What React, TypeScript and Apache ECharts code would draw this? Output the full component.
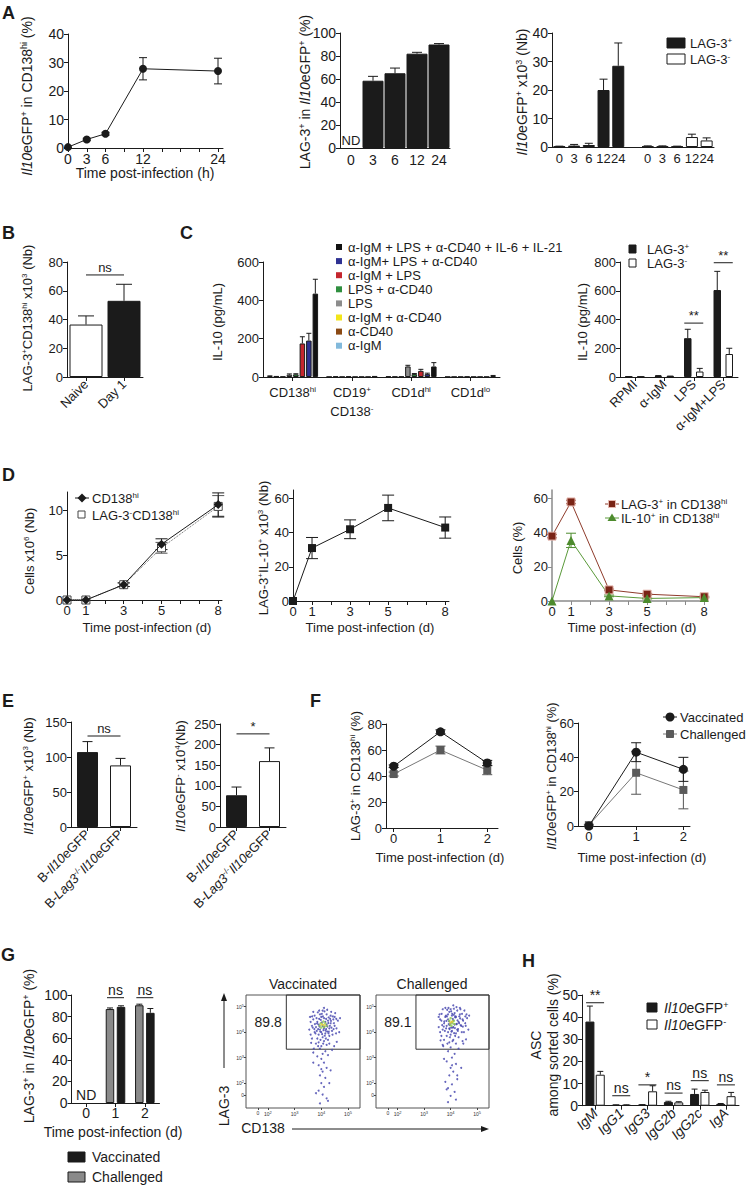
import React, { useEffect, useRef } from "react";
import * as echarts from "echarts";

const FONT = "'Liberation Sans', Arial, Helvetica, sans-serif";
const NARROW = "'Liberation Sans Narrow', 'Liberation Sans', Arial, sans-serif";
const INK = "#1b1b1b";
const W = 747;
const H = 1185;

/* ================= DATA ================= */
// ---- Panel A ----
const aHours = [0, 3, 6, 12, 24];
const aHourTicks = [0, 3, 6, 9, 12, 15, 18, 21, 24];
const aHourLabels = [0, 3, 6, 12, 24];
const aPctTicks = [0, 10, 20, 30, 40];
const aIl10InCd138 = [0.3, 3.0, 5.0, 27.8, 27.0];
const aIl10InCd138Err = [0, 0.4, 0.5, 3.9, 4.5];
const aLagCats = ["0", "3", "6", "12", "24"];
const aLagTicks = [0, 20, 40, 60, 80, 100];
const aLagInIl10 = [0, 58.5, 65, 82, 90]; // first = ND
const aLagInIl10Err = [0, 3.8, 4.5, 1.2, 0.8];
const aCountCats = ["0", "3", "6", "12", "24", "", "0", "3", "6", "12", "24"];
const aCountTicks = [0, 10, 20, 30, 40];
const aCountLagPos = [0.2, 0.5, 0.7, 20, 28.5];
const aCountLagPosErr = [0.1, 0.4, 0.6, 3.8, 8.0];
const aCountLagNeg = [0.2, 0.2, 0.2, 3.5, 2.3];
const aCountLagNegErr = [0.2, 0.2, 0.1, 1.0, 0.9];

// ---- Panel B ----
const bCats = ["Naive", "Day 1"];
const bTicks = [0, 20, 40, 60, 80];
const bLag3Cd138 = [36.5, 53];
const bLag3Cd138Err = [6, 11.5];
const bSig = [{ a: 0, b: 1, y: 71, t: "ns" }];

// ---- Panel C ----
const cCells = ["{n|CD138}{s|hi}", "{n|CD19}{s|+}\n{n|CD138}{s|-}", "{n|CD1d}{s|hi}", "{n|CD1d}{s|lo}"];
const cTicks = [0, 200, 400, 600];
// legend order (top to bottom)
const cStimNames = [
  "α-IgM + LPS + α-CD40 + IL-6 + IL-21",
  "α-IgM+ LPS + α-CD40",
  "α-IgM + LPS",
  "LPS + α-CD40",
  "LPS",
  "α-IgM + α-CD40",
  "α-CD40",
  "α-IgM",
];
const cStimColors = ["#121212", "#2e3192", "#c4262e", "#2f8f3f", "#8c8c8c", "#f2e51a", "#8b4a14", "#82b9db"];
const cStimValues = [
  [435, 2, 55, 6],
  [190, 1, 15, 1],
  [175, 1, 32, 1],
  [14, 1, 15, 1],
  [12, 3, 55, 2],
  [2, 1, 2, 1],
  [2, 3, 2, 1],
  [5, 1, 3, 1],
];
const cStimErr = [
  [75, 1, 20, 2],
  [38, 0, 5, 0],
  [35, 0, 8, 0],
  [3, 0, 3, 0],
  [4, 0, 6, 0],
  [0, 0, 0, 0],
  [1, 0, 0, 0],
  [1, 0, 0, 0],
];
const cCultCats = ["RPMI", "α-IgM", "LPS", "α-IgM+LPS"];
const cCultTicks = [0, 200, 400, 600, 800];
const cCultLagPos = [2, 8, 270, 605];
const cCultLagPosErr = [0.5, 2, 62, 130];
const cCultLagNeg = [1, 5, 38, 160];
const cCultLagNegErr = [0.5, 1.5, 22, 40];
const cCultSig = [
  { a: 2, b: 2, y: 375, t: "**" },
  { a: 3, b: 3, y: 795, t: "**" },
];

// ---- Panel D ----
const dDays = [0, 1, 3, 5, 8];
const dDayTicks = [0, 1, 2, 3, 4, 5, 6, 7, 8];
const dDayLabels = [0, 1, 3, 5, 8];
const dCellTicks = [0, 5, 10];
const dCd138 = [0, 0, 1.7, 6.2, 10.6];
const dCd138Err = [0, 0, 0.2, 0.6, 1.3];
const dLagNegCd138 = [0, 0, 1.7, 5.8, 10.4];
const dLagNegCd138Err = [0, 0, 0.2, 0.6, 1.2];
const dTicks60 = [0, 20, 40, 60];
const dLagIl10 = [0, 31, 42, 54.5, 43];
const dLagIl10Err = [0, 6.2, 5.5, 7.5, 6.2];
const dLagPct = [38, 58, 6.5, 4, 2.5];
const dLagPctErr = [1, 1, 0.5, 0.5, 0.3];
const dIl10Pct = [0, 35.5, 3, 1.5, 2];
const dIl10PctErr = [0, 4.2, 0.5, 0.3, 0.3];

// ---- Panel E ----
const eCats = ["{n|B-}{i|Il10}{n|eGFP}", "{n|B-}{i|Lag3}{s|-/-}{i|Il10}{n|eGFP}"];
const eTicks150 = [0, 50, 100, 150];
const eTicks250 = [0, 50, 100, 150, 200, 250];
const eIl10Pos = [107, 88];
const eIl10PosErr = [15, 10];
const eIl10Neg = [77, 160];
const eIl10NegErr = [20, 32];
const eSigPos = [{ a: 0, b: 1, y: 130, t: "ns" }];
const eSigNeg = [{ a: 0, b: 1, y: 226, t: "*" }];

// ---- Panel F ----
const fDays = [0, 1, 2];
const fTicks80 = [0, 20, 40, 60, 80];
const fTicks60 = [0, 20, 40, 60];
const fLagVac = [47.5, 74, 50];
const fLagVacErr = [1, 1.5, 2];
const fLagChal = [41.5, 60, 44.5];
const fLagChalErr = [1.5, 3, 3.5];
const fIl10Vac = [0, 43, 33];
const fIl10VacErr = [0, 5.5, 7];
const fIl10Chal = [0.5, 31, 21];
const fIl10ChalErr = [0.5, 12.5, 11];

// ---- Panel G ----
const gCats = ["0", "1", "2"];
const gTicks = [0, 20, 40, 60, 80, 100];
const gChal = [0, 87, 90.5];
const gChalErr = [0, 1, 1];
const gVac = [0, 89, 83.5];
const gVacErr = [0, 1, 4];
const gSig = [
  { a: 1, b: 1, y: 97.5, t: "ns" },
  { a: 2, b: 2, y: 97.5, t: "ns" },
];
const gGateLabels = ["89.8", "89.1"];
// flow coordinates in log10 decades
const gFlowTicksX = [1.625, 2, 3, 4, 5];
const gFlowTicksY = [1.53, 2, 3, 4, 5];
const gFlowVac = [
  [4.05, 4.25], [3.95, 4.1], [4.2, 4.3], [3.85, 4.4], [4.1, 4.55], [4.3, 4.15], [3.9, 3.9], [4.15, 3.95], [4.0, 4.6], [4.25, 4.45],
  [3.8, 4.2], [4.35, 4.35], [4.05, 3.8], [3.75, 4.0], [4.4, 4.05], [3.95, 4.7], [4.2, 4.7], [4.1, 4.15], [3.9, 4.3], [4.3, 3.85],
  [3.7, 4.5], [4.45, 4.5], [4.0, 4.0], [4.15, 4.4], [3.85, 3.75], [4.25, 3.7], [4.5, 4.25], [3.65, 4.25], [4.05, 4.85], [4.35, 4.65],
  [3.9, 3.6], [4.1, 3.65], [4.2, 3.5], [3.8, 3.55], [4.0, 3.45], [4.3, 3.55], [3.95, 3.35], [4.15, 3.25], [4.05, 3.15], [3.85, 3.05],
  [4.25, 3.1], [4.0, 2.95], [4.1, 2.8], [3.9, 2.7], [4.2, 2.6], [4.05, 2.45], [3.95, 2.3], [4.15, 2.2], [4.0, 2.0], [4.1, 1.85],
  [3.9, 1.7], [4.05, 1.55], [4.2, 1.4], [3.7, 3.2], [4.4, 3.3], [3.6, 3.9], [4.55, 3.95], [3.75, 4.65], [4.5, 4.6], [4.1, 4.95],
  [4.12, 4.22], [3.98, 4.48], [4.22, 4.02], [3.88, 4.12], [4.28, 4.58], [4.02, 4.38], [4.18, 4.12], [3.92, 4.52],
  [3.6, 4.4], [3.65, 3.75], [3.7, 4.8], [3.78, 3.95], [3.82, 4.55], [3.88, 3.45], [3.92, 4.85], [3.97, 3.7], [4.02, 4.72], [4.07, 3.55],
  [4.12, 4.82], [4.17, 3.75], [4.22, 4.88], [4.27, 3.95], [4.32, 4.25], [4.37, 4.8], [4.42, 3.9], [4.47, 4.35], [4.52, 4.75], [4.57, 4.15],
  [4.62, 4.45], [4.67, 4.0], [3.55, 4.1], [3.58, 4.6], [4.7, 4.55], [3.72, 3.35], [4.48, 3.45], [3.83, 4.05], [4.28, 4.02], [4.08, 4.08],
  [3.93, 4.22], [4.18, 4.52], [4.33, 4.52], [3.68, 4.18], [4.38, 4.18], [3.87, 4.78], [4.23, 4.22], [4.03, 3.92], [3.76, 4.32], [4.13, 3.86],
  [4.43, 4.62], [3.62, 3.58], [4.58, 3.62], [4.0, 2.55], [3.8, 1.6], [4.3, 2.0], [3.7, 2.8], [4.35, 2.5], [4.25, 1.3], [3.95, 1.2],
  [3.74, 4.12], [3.84, 4.34], [3.96, 4.02], [4.06, 4.62], [4.16, 4.06], [4.26, 4.36], [4.36, 4.44], [4.46, 4.12], [3.66, 4.62], [4.56, 4.52],
];
const gFlowVacHot = [[4.05, 4.3], [4.1, 4.2], [3.98, 4.35], [4.15, 4.35], [4.08, 4.42], [4.0, 4.18], [4.2, 4.25], [3.94, 4.26]];
const gFlowVacWarm = [[4.02, 4.3], [4.12, 4.28]];
const gFlowChal = [
  [4.0, 4.35], [4.1, 4.2], [3.9, 4.5], [4.2, 4.6], [4.05, 4.05], [3.85, 4.25], [4.3, 4.4], [4.15, 4.75], [3.95, 4.8], [4.25, 4.1],
  [3.8, 4.6], [4.4, 4.25], [4.0, 3.9], [4.1, 4.45], [3.75, 4.35], [4.35, 4.7], [3.9, 4.0], [4.2, 3.95], [4.05, 4.65], [3.7, 4.1],
  [4.45, 4.5], [3.95, 4.15], [4.3, 3.8], [3.85, 3.85], [4.15, 4.3], [4.0, 4.9], [4.25, 4.85], [3.65, 4.45], [4.5, 4.0], [3.8, 4.95],
  [4.1, 3.7], [3.95, 3.6], [4.2, 3.55], [4.0, 3.4], [3.9, 3.25], [4.15, 3.15], [4.05, 3.0], [3.85, 2.85], [4.2, 2.75], [4.0, 2.6],
  [4.1, 2.45], [3.95, 2.3], [4.25, 2.15], [4.05, 1.95], [3.9, 1.8], [4.15, 1.65], [4.0, 1.5], [3.8, 2.05], [4.3, 3.35], [3.7, 3.5],
  [4.55, 4.35], [3.6, 4.0], [4.35, 4.95], [3.75, 3.7], [4.45, 3.65], [4.1, 5.05], [3.55, 4.6], [4.6, 4.7], [4.05, 4.4], [3.9, 4.7],
  [4.08, 4.52], [3.96, 4.28], [4.22, 4.32], [3.86, 4.62], [4.18, 4.58], [4.02, 4.18], [4.12, 4.68], [3.94, 4.42],
  [3.6, 4.5], [3.65, 3.85], [3.7, 4.9], [3.78, 4.05], [3.82, 4.65], [3.88, 3.55], [3.92, 4.95], [3.97, 3.8], [4.02, 4.82], [4.07, 3.65],
  [4.12, 4.92], [4.17, 3.85], [4.22, 4.98], [4.27, 4.05], [4.32, 4.35], [4.37, 4.9], [4.42, 4.0], [4.47, 4.45], [4.52, 4.85], [4.57, 4.25],
  [4.62, 4.55], [4.67, 4.1], [3.55, 4.2], [3.58, 4.7], [4.7, 4.65], [3.72, 3.45], [4.48, 3.55], [3.83, 4.15], [4.28, 4.12], [4.08, 4.18],
  [3.93, 4.32], [4.18, 4.62], [4.33, 4.62], [3.68, 4.28], [4.38, 4.28], [3.87, 4.88], [4.23, 4.32], [4.03, 4.02], [3.76, 4.42], [4.13, 3.96],
  [4.43, 4.72], [3.62, 3.68], [4.58, 3.72], [4.05, 2.7], [3.85, 1.75], [4.25, 2.3], [3.75, 2.95], [4.4, 2.6], [4.2, 1.35], [3.9, 1.25],
  [3.74, 4.22], [3.84, 4.44], [3.96, 4.12], [4.06, 4.72], [4.16, 4.16], [4.26, 4.46], [4.36, 4.54], [4.46, 4.22], [3.66, 4.72], [4.56, 4.62],
];
const gFlowChalHot = [[4.05, 4.4], [3.98, 4.3], [4.12, 4.45], [4.0, 4.55], [4.08, 4.35], [3.95, 4.45], [4.15, 4.32], [4.03, 4.25]];
const gFlowChalWarm = [[4.06, 4.42], [3.99, 4.38]];

// ---- Panel H ----
const hCats = ["{i|IgM}", "{i|IgG1}", "{i|IgG3}", "{i|IgG2b}", "{i|IgG2c}", "{i|IgA}"];
const hTicks = [0, 10, 20, 30, 40, 50];
const hIl10Pos = [38, 0.3, 0.4, 1.7, 5.3, 0.8];
const hIl10PosErr = [7, 0.1, 0.1, 0.3, 2.2, 0.2];
const hIl10Neg = [14, 0.3, 6.5, 1.5, 6.2, 4.3];
const hIl10NegErr = [1.5, 0.1, 2.5, 0.3, 0.8, 1.7];
const hSig = [
  { a: 0, b: 0, y: 46.5, t: "**" },
  { a: 1, b: 1, y: 4.5, t: "ns" },
  { a: 2, b: 2, y: 9.4, t: "*" },
  { a: 3, b: 3, y: 5.7, t: "ns" },
  { a: 4, b: 4, y: 11.3, t: "ns" },
  { a: 5, b: 5, y: 9.4, t: "ns" },
];

/* ================= HELPERS ================= */
function R(fs: number, family: string = FONT, lh?: number): any {
  const base: any = { fontSize: fs, fontFamily: family, color: INK, fill: INK };
  if (lh) base.lineHeight = lh;
  const sfs = Math.round(fs * 0.64);
  const sup: any = { fontSize: sfs, fontFamily: family, color: INK, fill: INK, padding: [0, 0, Math.round(fs * 0.45), 0] };
  return {
    n: { ...base },
    i: { ...base, fontStyle: "italic" },
    s: sup,
  };
}

const axLine = (c: string = INK, w: number = 1) => ({ show: true, onZero: false, lineStyle: { color: c, width: w } });

function vAxis(min: number, max: number, ticks: number[], labels: number[], fs: number, o: any = {}): any {
  const c = o.color || INK;
  return {
    type: "value",
    min,
    max,
    axisLine: o.noLine ? { show: false } : axLine(c, o.lw || 1),
    axisTick: { show: true, length: o.tickLen ?? 4, customValues: ticks, lineStyle: { color: c, width: 1 } },
    axisLabel: {
      customValues: labels,
      fontSize: fs,
      fontFamily: o.font || FONT,
      color: INK,
      margin: o.margin ?? 4,
      formatter: o.formatter,
      rich: o.rich,
    },
    splitLine: { show: false },
  };
}

function cAxis(cats: string[], fs: number, o: any = {}): any {
  return {
    type: "category",
    data: cats,
    boundaryGap: true,
    axisLine: axLine(),
    axisTick: { show: o.ticks !== false, alignWithLabel: true, length: 4, lineStyle: { color: INK } },
    axisLabel: {
      interval: 0,
      fontSize: fs,
      fontFamily: o.font || FONT,
      color: INK,
      rotate: o.rotate || 0,
      margin: o.margin ?? 5,
      rich: o.rich,
    },
    splitLine: { show: false },
  };
}

function barS(gi: number, data: any[], fill: string, bw: number, gap: string): any {
  return {
    type: "bar",
    xAxisIndex: gi,
    yAxisIndex: gi,
    data,
    barWidth: bw,
    barGap: gap,
    itemStyle: { color: fill, borderColor: INK, borderWidth: 1 },
    silent: true,
    z: 2,
  };
}

function errS(gi: number, pts: number[][], off: number, cap: number, color: string = INK): any {
  return {
    type: "custom",
    xAxisIndex: gi,
    yAxisIndex: gi,
    silent: true,
    z: 3,
    encode: { x: 0, y: [1, 2, 3] },
    data: pts,
    renderItem: (_p: any, api: any) => {
      const x = api.value(0);
      const m = api.value(1);
      const lo = api.value(2);
      const hi = api.value(3);
      if (!(hi - lo > 0)) return { type: "group", children: [] };
      const a = api.coord([x, lo]);
      const b = api.coord([x, hi]);
      const cx = a[0] + off;
      const st = { stroke: color, lineWidth: 1 };
      const ch: any[] = [{ type: "line", shape: { x1: cx, y1: a[1], x2: cx, y2: b[1] }, style: st }];
      if (hi > m) ch.push({ type: "line", shape: { x1: cx - cap, y1: b[1], x2: cx + cap, y2: b[1] }, style: st });
      if (lo < m) ch.push({ type: "line", shape: { x1: cx - cap, y1: a[1], x2: cx + cap, y2: a[1] }, style: st });
      return { type: "group", children: ch };
    },
  };
}

const barErr = (vals: number[], errs: number[]) => vals.map((v, i) => [i, v, v, v + errs[i]]);
const ptErr = (xs: number[], vals: number[], errs: number[]) => xs.map((x, i) => [x, vals[i], vals[i] - errs[i], vals[i] + errs[i]]);

function sigS(gi: number, items: any[], half: number, fs: number, font: string = FONT): any {
  return {
    type: "custom",
    xAxisIndex: gi,
    yAxisIndex: gi,
    silent: true,
    z: 4,
    encode: { x: 0, y: 1 },
    data: items.map((it) => [it.a, it.y]),
    renderItem: (p: any, api: any) => {
      const it = items[p.dataIndex];
      const pa = api.coord([it.a, it.y]);
      const pb = api.coord([it.b, it.y]);
      const x1 = it.a === it.b ? pa[0] - half : pa[0];
      const x2 = it.a === it.b ? pb[0] + half : pb[0];
      const y = pa[1];
      return {
        type: "group",
        children: [
          { type: "line", shape: { x1, y1: y, x2, y2: y }, style: { stroke: INK, lineWidth: 1 } },
          {
            type: "text",
            x: (x1 + x2) / 2,
            y: y - 1,
            style: {
              text: it.t,
              fill: INK,
              font: `${fs}px ${font}`,
              align: "center",
              verticalAlign: "bottom",
              textAlign: "center",
              textVerticalAlign: "bottom",
            },
          },
        ],
      };
    },
  };
}

function ndS(gi: number, cats: number[], fs: number, font: string = FONT): any {
  return {
    type: "custom",
    xAxisIndex: gi,
    yAxisIndex: gi,
    silent: true,
    z: 4,
    encode: { x: 0, y: 1 },
    data: cats.map((c) => [c, 0]),
    renderItem: (_p: any, api: any) => {
      const pt = api.coord([api.value(0), 0]);
      return {
        type: "text",
        x: pt[0],
        y: pt[1] - 1,
        style: { text: "ND", fill: INK, font: `${fs}px ${font}`, align: "center", verticalAlign: "bottom", textAlign: "center", textVerticalAlign: "bottom" },
      };
    },
  };
}

function lineS(gi: number, xs: number[], ys: number[], o: any): any {
  return {
    type: "line",
    xAxisIndex: gi,
    yAxisIndex: gi,
    data: xs.map((x, i) => [x, ys[i]]),
    symbol: o.symbol,
    symbolSize: o.size,
    showAllSymbol: true,
    itemStyle: { color: o.fill, borderColor: o.border || o.fill, borderWidth: o.bw ?? 0 },
    lineStyle: { color: o.lineColor, width: 1, type: o.lineType || "solid" },
    clip: false,
    silent: true,
    z: o.z || 5,
  };
}

/* ================= OPTION ================= */
function buildOption(): any {
  const grid: any[] = [];
  const xAxis: any[] = [];
  const yAxis: any[] = [];
  const series: any[] = [];
  const graphic: any[] = [];

  const addGrid = (rect: any, xa: any, ya: any) => {
    const i = grid.length;
    grid.push({ containLabel: false, ...rect });
    xAxis.push({ ...xa, gridIndex: i });
    yAxis.push({ ...ya, gridIndex: i });
    return i;
  };

  const txt = (x: number, y: number, t: string, fs: number, o: any = {}) => {
    graphic.push({
      type: "text",
      x,
      y,
      rotation: o.rot || 0,
      silent: true,
      z: 10,
      style: {
        text: t,
        rich: o.rich,
        fill: o.color || INK,
        font: `${o.weight || "normal"} ${fs}px ${o.font || FONT}`,
        align: o.align || "center",
        verticalAlign: o.va || "middle",
        textAlign: o.align || "center",
        textVerticalAlign: o.va || "middle",
      },
    });
  };
  const yTitle = (x: number, y: number, t: string, fs: number, font: string = FONT) =>
    txt(x, y, t, fs, { rot: Math.PI / 2, rich: R(fs, font), font });
  const box = (x: number, y: number, w: number, h: number, fill: string, stroke: string = INK) =>
    graphic.push({ type: "rect", silent: true, z: 10, shape: { x, y, width: w, height: h }, style: { fill, stroke, lineWidth: 1 } });
  const seg = (x1: number, y1: number, x2: number, y2: number, color: string = INK, dash?: number[]) =>
    graphic.push({ type: "line", silent: true, z: 10, shape: { x1, y1, x2, y2 }, style: { stroke: color, lineWidth: 1, lineDash: dash } });

  // panel letters
  const letters: [string, number, number][] = [
    ["A", 2, 4], ["B", 2, 224], ["C", 180, 224], ["D", 2, 466],
    ["E", 2, 692], ["F", 310, 692], ["G", 1, 946], ["H", 522, 952],
  ];
  letters.forEach(([l, x, y]) => txt(x, y, l, 18, { weight: "bold", align: "left", va: "top", font: "Arial, 'Liberation Sans', sans-serif" }));

  /* ---- A1 ---- */
  const a1 = addGrid(
    { left: 68, top: 34, width: 155, height: 114 },
    vAxis(0, 24.8, aHourTicks, aHourLabels, 14),
    vAxis(0, 40, aPctTicks, aPctTicks, 14)
  );
  series.push(errS(a1, ptErr(aHours, aIl10InCd138, aIl10InCd138Err), 0, 4));
  series.push(lineS(a1, aHours, aIl10InCd138, { symbol: "circle", size: 8, fill: INK, lineColor: INK }));
  yTitle(27, 96, "{i|Il10}{n|eGFP}{s|+}{n| in CD138}{s|hi}{n| (%)}", 14);
  txt(145, 173, "Time post-infection (h)", 14);

  /* ---- A2 ---- */
  const a2 = addGrid(
    { left: 340, top: 33, width: 110, height: 115 },
    cAxis(aLagCats, 14, { ticks: false }),
    vAxis(0, 100, aLagTicks, aLagTicks, 14)
  );
  series.push(barS(a2, aLagInIl10.map((v, i) => (i === 0 ? "-" : v)), INK, 21, "0%"));
  series.push(errS(a2, barErr(aLagInIl10, aLagInIl10Err).slice(1), 0, 5));
  series.push(ndS(a2, [0], 13));
  yTitle(305, 92, "{n|LAG-3}{s|+}{n| in }{i|Il10}{n|eGFP}{s|+}{n| (%)}", 14);

  /* ---- A3 ---- */
  const a3 = addGrid(
    { left: 552, top: 33, width: 162, height: 114 },
    cAxis(aCountCats, 13, { ticks: false }),
    vAxis(0, 40, aCountTicks, aCountTicks, 14)
  );
  const a3pos = aCountCats.map((_c, i) => (i < 5 ? aCountLagPos[i] : "-"));
  const a3neg = aCountCats.map((_c, i) => (i > 5 ? aCountLagNeg[i - 6] : "-"));
  series.push(barS(a3, a3pos, INK, 12, "-100%"));
  series.push(barS(a3, a3neg, "#ffffff", 12, "-100%"));
  series.push(errS(a3, barErr(aCountLagPos, aCountLagPosErr), 0, 4));
  series.push(errS(a3, aCountLagNeg.map((v, i) => [i + 6, v, v, v + aCountLagNegErr[i]]), 0, 4));
  yTitle(522, 92, "{i|Il10}{n|eGFP}{s|+}{n| x10}{s|3}{n| (Nb)}", 14);
  box(667, 38, 18, 10, INK);
  box(667, 54, 18, 10, "#ffffff");
  txt(690, 43, "{n|LAG-3}{s|+}", 13, { align: "left", rich: R(13) });
  txt(690, 59, "{n|LAG-3}{s|-}", 13, { align: "left", rich: R(13) });

  /* ---- B ---- */
  const b = addGrid(
    { left: 67, top: 262, width: 76, height: 115 },
    cAxis(bCats, 13, { rotate: 45 }),
    vAxis(0, 80, bTicks, bTicks, 13)
  );
  series.push(
    barS(
      b,
      bLag3Cd138.map((v, i) => ({ value: v, itemStyle: { color: i === 0 ? "#ffffff" : INK } })),
      INK,
      33,
      "0%"
    )
  );
  series.push(errS(b, barErr(bLag3Cd138, bLag3Cd138Err), 0, 8));
  series.push(sigS(b, bSig, 0, 13));
  yTitle(27, 318, "{n|LAG-3}{s|+}{n|CD138}{s|hi}{n| x10}{s|3}{n| (Nb)}", 13);

  /* ---- C1 ---- */
  const c1 = addGrid(
    { left: 263, top: 262, width: 237, height: 115 },
    cAxis(cCells, 13, { rich: R(13, FONT, 19), margin: 6 }),
    vAxis(0, 600, cTicks, cTicks, 13)
  );
  const cBw = 5.5;
  const cStep = cBw * 1.18;
  for (let k = 0; k < 8; k++) {
    const li = 7 - k; // bars left->right are legend bottom->top
    const off = (k - 3.5) * cStep;
    series.push(barS(c1, cStimValues[li], cStimColors[li], cBw, "18%"));
    series.push(errS(c1, barErr(cStimValues[li], cStimErr[li]), off, 2.5));
  }
  cStimNames.forEach((nm, i) => {
    const y = 247 + i * 14.1;
    graphic.push({ type: "rect", silent: true, z: 10, shape: { x: 336, y: y - 3, width: 6, height: 6 }, style: { fill: cStimColors[i] } });
    txt(348, y, nm, 13, { align: "left" });
  });
  yTitle(217, 322, "{n|IL-10 (pg/mL)}", 13);

  /* ---- C2 ---- */
  const c2 = addGrid(
    { left: 620, top: 262, width: 118, height: 115 },
    cAxis(cCultCats, 13, { rotate: 45 }),
    vAxis(0, 800, cCultTicks, cCultTicks, 13)
  );
  series.push(barS(c2, cCultLagPos, INK, 7.5, "60%"));
  series.push(barS(c2, cCultLagNeg, "#ffffff", 7.5, "60%"));
  series.push(errS(c2, barErr(cCultLagPos, cCultLagPosErr), -6, 3));
  series.push(errS(c2, barErr(cCultLagNeg, cCultLagNegErr), 6, 3));
  series.push(sigS(c2, cCultSig, 9.5, 13));
  box(629, 245, 7, 8, INK);
  box(629, 259, 7, 8, "#ffffff");
  txt(647, 249, "{n|LAG-3}{s|+}", 13, { align: "left", rich: R(13) });
  txt(647, 263, "{n|LAG-3}{s|-}", 13, { align: "left", rich: R(13) });
  yTitle(582, 322, "{n|IL-10 (pg/mL)}", 13);

  /* ---- D1 ---- */
  const d1 = addGrid(
    { left: 67, top: 492, width: 155, height: 108 },
    vAxis(0, 8.2, dDayTicks, dDayLabels, 13),
    vAxis(0, 12, dCellTicks, dCellTicks, 13)
  );
  series.push(errS(d1, ptErr(dDays, dLagNegCd138, dLagNegCd138Err), 0, 6, "#555"));
  series.push(errS(d1, ptErr(dDays, dCd138, dCd138Err), 0, 6));
  series.push(lineS(d1, dDays, dLagNegCd138, { symbol: "rect", size: 8, fill: "#ffffff", border: "#444", bw: 1, lineColor: "#666", lineType: "dotted", z: 5 }));
  series.push(lineS(d1, dDays, dCd138, { symbol: "diamond", size: 9, fill: INK, lineColor: INK, z: 6 }));
  seg(75, 498, 89, 498);
  graphic.push({ type: "polygon", silent: true, z: 11, shape: { points: [[82, 493.5], [86.5, 498], [82, 502.5], [77.5, 498]] }, style: { fill: INK } });
  box(78, 511, 7, 7, "#ffffff", "#444");
  txt(92, 498, "{n|CD138}{s|hi}", 13, { align: "left", rich: R(13) });
  txt(92, 515, "{n|LAG-3}{s|-}{n|CD138}{s|hi}", 13, { align: "left", rich: R(13) });
  yTitle(29, 551, "{n|Cells x10}{s|6}{n| (Nb)}", 13);
  txt(147, 627, "Time post-infection (d)", 13);

  /* ---- D2 ---- */
  const d2 = addGrid(
    { left: 293, top: 490, width: 156, height: 111 },
    vAxis(0, 8.2, dDayTicks, dDayLabels, 13),
    vAxis(0, 65, dTicks60, dTicks60, 13)
  );
  series.push(errS(d2, ptErr(dDays, dLagIl10, dLagIl10Err), 0, 6));
  series.push(lineS(d2, dDays, dLagIl10, { symbol: "rect", size: 8, fill: INK, lineColor: INK }));
  yTitle(263, 548, "{n|LAG-3}{s|+}{n|IL-10}{s|+}{n| x10}{s|3}{n| (Nb)}", 13);
  txt(370, 627, "Time post-infection (d)", 13);

  /* ---- D3 ---- */
  const d3 = addGrid(
    { left: 552, top: 490, width: 156, height: 111 },
    vAxis(0, 8.2, dDayTicks, dDayLabels, 13, { color: "#8a8a8a", lw: 1.5 }),
    vAxis(0, 65, dTicks60, dTicks60, 13, { color: "#8a8a8a", lw: 1.5 })
  );
  series.push(errS(d3, ptErr(dDays, dLagPct, dLagPctErr), 0, 5, "#7a2416"));
  series.push(errS(d3, ptErr(dDays, dIl10Pct, dIl10PctErr), 0, 5, "#4d8b2e"));
  series.push(lineS(d3, dDays, dLagPct, { symbol: "rect", size: 8, fill: "#7a2416", border: "#e6b9b0", bw: 1, lineColor: "#8e3b2b" }));
  series.push(lineS(d3, dDays, dIl10Pct, { symbol: "triangle", size: 9, fill: "#4d8b2e", lineColor: "#5a9a3a" }));
  seg(605, 504, 619, 504, "#8e3b2b");
  box(608.5, 500.5, 7, 7, "#7a2416", "#e6b9b0");
  seg(605, 518, 619, 518, "#5a9a3a");
  graphic.push({ type: "polygon", silent: true, z: 11, shape: { points: [[612, 513.5], [616.5, 521], [607.5, 521]] }, style: { fill: "#4d8b2e" } });
  txt(621, 504, "{n|LAG-3}{s|+}{n| in CD138}{s|hi}", 13, { align: "left", rich: R(13) });
  txt(621, 518, "{n|IL-10}{s|+}{n| in CD138}{s|hi}", 13, { align: "left", rich: R(13) });
  yTitle(517, 548, "{n|Cells (%)}", 13);
  txt(632, 627, "Time post-infection (d)", 13);

  /* ---- E1 ---- */
  const e1 = addGrid(
    { left: 71, top: 722, width: 66, height: 105 },
    cAxis(eCats, 13, { rotate: 45, rich: R(13) }),
    vAxis(0, 150, eTicks150, eTicks150, 13)
  );
  series.push(barS(e1, eIl10Pos.map((v, i) => ({ value: v, itemStyle: { color: i === 0 ? INK : "#ffffff" } })), INK, 21, "0%"));
  series.push(errS(e1, barErr(eIl10Pos, eIl10PosErr), 0, 5));
  series.push(sigS(e1, eSigPos, 0, 13));
  yTitle(28, 776, "{i|Il10}{n|eGFP}{s|+}{n| x10}{s|3}{n| (Nb)}", 13);

  /* ---- E2 ---- */
  const e2 = addGrid(
    { left: 220, top: 724, width: 66, height: 103 },
    cAxis(eCats, 13, { rotate: 45, rich: R(13) }),
    vAxis(0, 250, eTicks250, eTicks250, 13)
  );
  series.push(barS(e2, eIl10Neg.map((v, i) => ({ value: v, itemStyle: { color: i === 0 ? INK : "#ffffff" } })), INK, 21, "0%"));
  series.push(errS(e2, barErr(eIl10Neg, eIl10NegErr), 0, 5));
  series.push(sigS(e2, eSigNeg, 0, 13));
  yTitle(180, 776, "{i|Il10}{n|eGFP}{s|-}{n| x10}{s|4}{n|(Nb)}", 13);

  /* ---- F1 ---- */
  const f1 = addGrid(
    { left: 386, top: 724, width: 112, height: 104 },
    vAxis(-0.165, 2.23, fDays, fDays, 13),
    vAxis(0, 80, fTicks80, fTicks80, 13)
  );
  series.push(errS(f1, ptErr(fDays, fLagChal, fLagChalErr), 0, 5, "#555"));
  series.push(errS(f1, ptErr(fDays, fLagVac, fLagVacErr), 0, 5));
  series.push(lineS(f1, fDays, fLagChal, { symbol: "rect", size: 8, fill: "#5a5a5a", lineColor: "#777" }));
  series.push(lineS(f1, fDays, fLagVac, { symbol: "circle", size: 9, fill: INK, lineColor: INK, z: 6 }));
  yTitle(355, 776, "{n|LAG-3}{s|+}{n| in CD138}{s|hi}{n| (%)}", 13);
  txt(440, 857, "Time post-infection (d)", 13);

  /* ---- F2 ---- */
  const f2 = addGrid(
    { left: 578, top: 723, width: 112, height: 103 },
    vAxis(-0.23, 2.14, fDays, fDays, 13),
    vAxis(0, 60, fTicks60, fTicks60, 13)
  );
  series.push(errS(f2, ptErr(fDays, fIl10Chal, fIl10ChalErr), 0, 5, "#555"));
  series.push(errS(f2, ptErr(fDays, fIl10Vac, fIl10VacErr), 0, 5));
  series.push(lineS(f2, fDays, fIl10Chal, { symbol: "rect", size: 8, fill: "#5a5a5a", lineColor: "#777" }));
  series.push(lineS(f2, fDays, fIl10Vac, { symbol: "circle", size: 9, fill: INK, lineColor: INK, z: 6 }));
  seg(663, 717, 677, 717);
  graphic.push({ type: "circle", silent: true, z: 11, shape: { cx: 670, cy: 717, r: 4.5 }, style: { fill: INK } });
  seg(663, 734, 677, 734, "#777");
  box(666.5, 730.5, 7, 7, "#5a5a5a", "#5a5a5a");
  txt(680, 717, "Vaccinated", 13, { align: "left" });
  txt(680, 734, "Challenged", 13, { align: "left" });
  yTitle(551, 776, "{i|Il10}{n|eGFP}{s|+}{n| in CD138}{s|hi}{n| (%)}", 13);
  txt(642, 857, "Time post-infection (d)", 13);

  /* ---- G1 ---- */
  const g1 = addGrid(
    { left: 71.5, top: 995, width: 88, height: 108 },
    cAxis(gCats, 14, { font: NARROW, margin: 3 }),
    vAxis(0, 100, gTicks, gTicks, 14, { font: NARROW })
  );
  series.push(barS(g1, gChal.map((v, i) => (i === 0 ? "-" : v)), "#8a8a8a", 8.5, "30%"));
  series.push(barS(g1, gVac.map((v, i) => (i === 0 ? "-" : v)), INK, 8.5, "30%"));
  series.push(errS(g1, barErr(gChal, gChalErr).slice(1), -5.5, 3));
  series.push(errS(g1, barErr(gVac, gVacErr).slice(1), 5.5, 3));
  series.push(sigS(g1, gSig, 8.5, 14, NARROW));
  series.push(ndS(g1, [0], 14, NARROW));
  yTitle(29, 1046, "{n|LAG-3}{s|+}{n| in }{i|Il10}{n|eGFP}{s|+}{n| (%)}", 14, NARROW);
  txt(113, 1132, "Time post-infection (d)", 14, { font: NARROW });
  box(68, 1152, 17, 10, INK);
  box(68, 1172, 17, 10, "#8a8a8a");
  txt(92, 1157, "Vaccinated", 14, { align: "left", font: NARROW });
  txt(92, 1177, "Challenged", 14, { align: "left", font: NARROW });

  /* ---- G2 flow plots ---- */
  const flowRich = {
    n: { fontSize: 5, fontFamily: FONT, color: "#333" },
    s: { fontSize: 4, fontFamily: FONT, color: "#333", padding: [0, 0, 3, 0] },
  };
  const flowFmt = (v: number) => (v < 1.9 ? "{n|0}" : `{n|10}{s|${Math.round(v)}}`);
  const flowRects = [
    { left: 246, top: 995, width: 114, height: 113 },
    { left: 376, top: 995, width: 113, height: 113 },
  ];
  const flowData = [gFlowVac, gFlowChal];
  const flowHot = [gFlowVacHot, gFlowChalHot];
  const flowWarm = [gFlowVacWarm, gFlowChalWarm];
  flowRects.forEach((rect, k) => {
    const gi = addGrid(
      { ...rect, show: true, borderColor: "#555", borderWidth: 1 },
      vAxis(1.18, 5.45, gFlowTicksX, gFlowTicksX, 5, { noLine: true, tickLen: 2, margin: 2, formatter: flowFmt, rich: flowRich, color: "#444" }),
      vAxis(1.02, 5.46, gFlowTicksY, gFlowTicksY, 5, { noLine: true, tickLen: 2, margin: 2, formatter: flowFmt, rich: flowRich, color: "#444" })
    );
    series.push({
      type: "scatter",
      xAxisIndex: gi,
      yAxisIndex: gi,
      data: flowData[k],
      symbolSize: 2,
      itemStyle: { color: "#4a4ab0", opacity: 0.85 },
      silent: true,
      z: 3,
      markArea: {
        silent: true,
        itemStyle: { color: "rgba(0,0,0,0)", borderColor: "#333", borderWidth: 1 },
        label: { show: true, position: "left", distance: 4, formatter: gGateLabels[k], fontSize: 14, fontFamily: NARROW, color: INK },
        data: [[{ coord: [2.69, 3.33] }, { coord: [5.45, 5.46] }]],
      },
    });
    series.push({
      type: "scatter",
      xAxisIndex: gi,
      yAxisIndex: gi,
      data: flowHot[k],
      symbolSize: 2.5,
      itemStyle: { color: "#8cc84b" },
      silent: true,
      z: 4,
    });
    series.push({
      type: "scatter",
      xAxisIndex: gi,
      yAxisIndex: gi,
      data: flowWarm[k],
      symbolSize: 2.5,
      itemStyle: { color: "#f0d23a" },
      silent: true,
      z: 5,
    });
  });
  txt(303, 984, "Vaccinated", 14, { font: NARROW });
  txt(432, 984, "Challenged", 14, { font: NARROW });
  seg(224, 1068, 224, 999);
  graphic.push({ type: "polygon", silent: true, z: 11, shape: { points: [[224, 993], [227, 1001], [221, 1001]] }, style: { fill: INK } });
  txt(224, 1106, "LAG-3", 14, { rot: Math.PI / 2, font: NARROW });
  txt(263, 1128, "CD138", 14, { font: NARROW });
  seg(292, 1129, 482, 1129);
  graphic.push({ type: "polygon", silent: true, z: 11, shape: { points: [[489, 1129], [481, 1126], [481, 1132]] }, style: { fill: INK } });

  /* ---- H ---- */
  const h = addGrid(
    { left: 582, top: 995, width: 157, height: 110.7 },
    cAxis(hCats, 14, { rotate: 45, rich: R(14, NARROW), font: NARROW }),
    vAxis(0, 50, hTicks, hTicks, 14, { font: NARROW })
  );
  series.push(barS(h, hIl10Pos, INK, 9, "15%"));
  series.push(barS(h, hIl10Neg, "#ffffff", 9, "15%"));
  series.push(errS(h, barErr(hIl10Pos, hIl10PosErr), -5.2, 3));
  series.push(errS(h, barErr(hIl10Neg, hIl10NegErr), 5.2, 3));
  series.push(sigS(h, hSig, 9, 14, NARROW));
  box(647, 1003, 10, 9, INK);
  box(647, 1020, 10, 9, "#ffffff");
  txt(664, 1008, "{i|Il10}{n|eGFP}{s|+}", 14, { align: "left", rich: R(14, NARROW) });
  txt(664, 1025, "{i|Il10}{n|eGFP}{s|-}", 14, { align: "left", rich: R(14, NARROW) });
  yTitle(536, 1045, "{n|ASC}", 14, NARROW);
  yTitle(553, 1045, "{n|among sorted cells (%)}", 14, NARROW);

  return {
    animation: false,
    backgroundColor: "#ffffff",
    textStyle: { fontFamily: FONT, color: INK },
    grid,
    xAxis,
    yAxis,
    series,
    graphic: { elements: graphic },
  };
}

export default function App() {
  const ref = useRef<HTMLDivElement>(null);
  useEffect(() => {
    if (!ref.current) return;
    const chart = echarts.init(ref.current, null, { renderer: "svg", width: W, height: H });
    chart.setOption(buildOption());
    return () => chart.dispose();
  }, []);
  return (
    <div
      ref={ref}
      style={{ position: "absolute", left: 0, top: 0, width: W, height: H, background: "#fff" }}
    />
  );
}
